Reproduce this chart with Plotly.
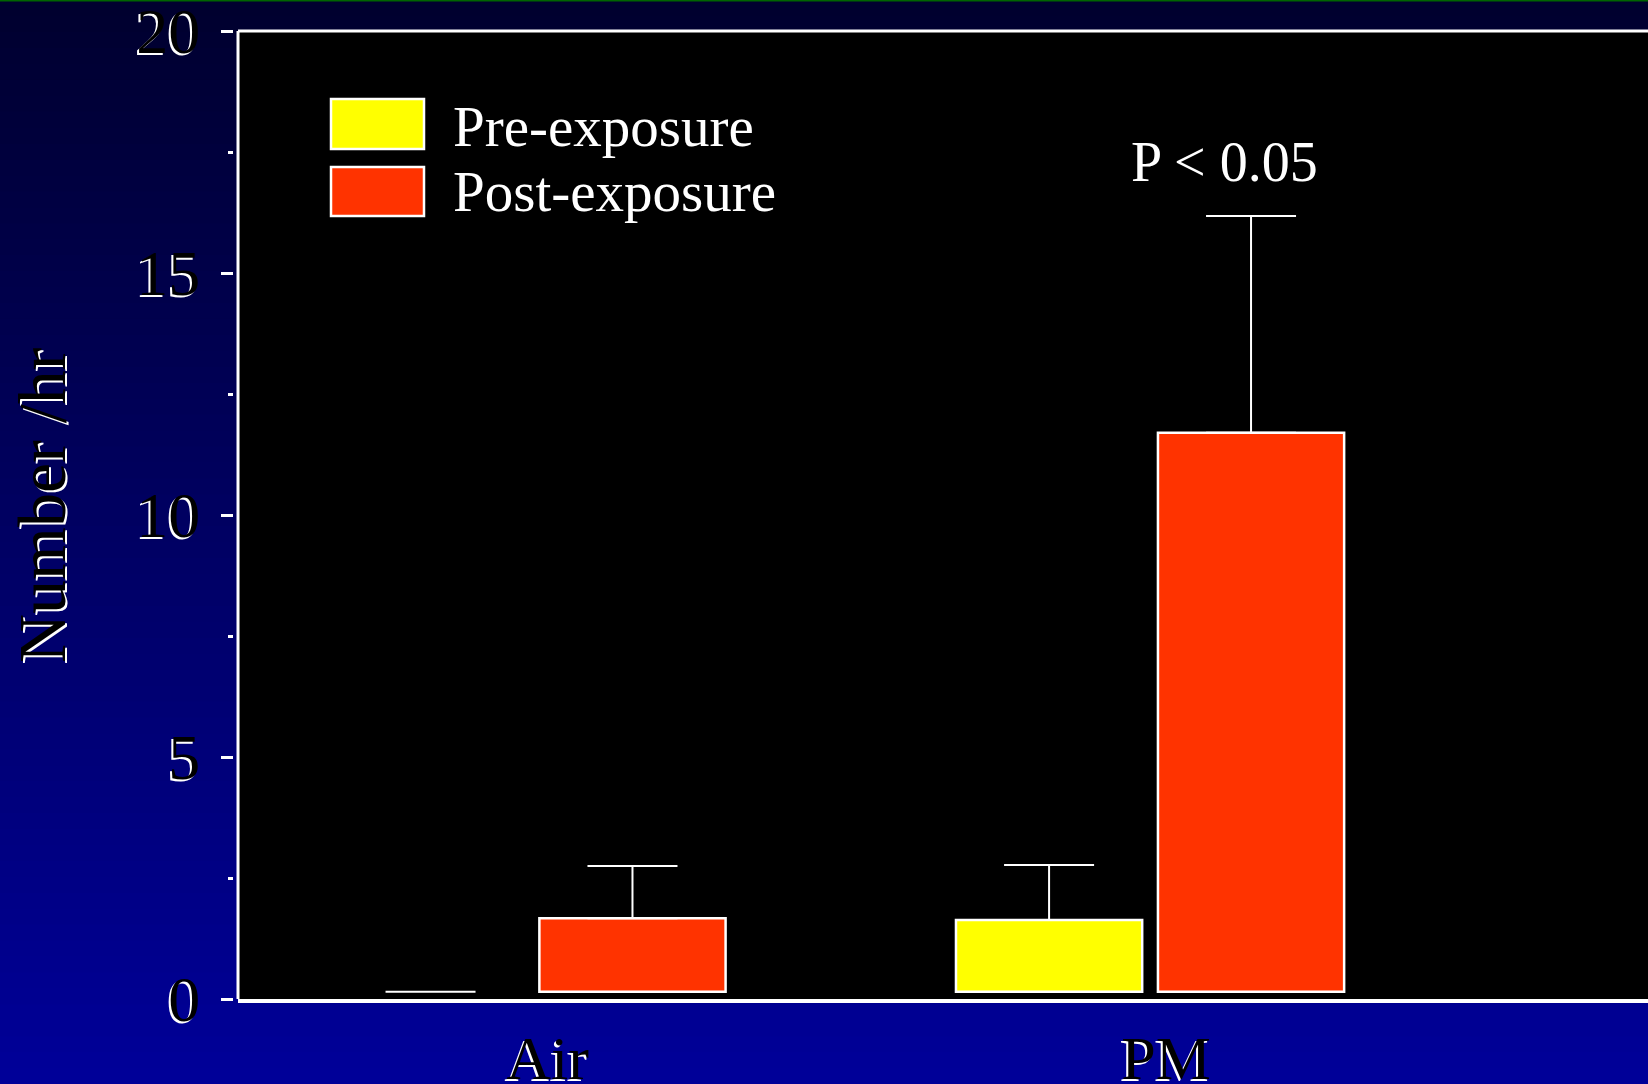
import plotly.graph_objects as go

# ---- data ----
categories = ["Air", "PM"]
pre_mean = [0.15, 1.63]
post_mean = [1.67, 11.70]
pre_err = [0.0, 1.14]
post_err = [1.08, 4.48]
bar_base = 0.15
y_major = [0, 5, 10, 15, 20]
y_minor = [2.5, 7.5, 12.5, 17.5]
series_names = ["Pre-exposure", "Post-exposure"]
p_text = "P < 0.05"
y_title = "Number /hr"

# ---- style ----
W, H = 1648, 1084
ML, MR, MT, MB = 233, 0, 31, 85
PW, PH = W - ML - MR, H - MT - MB
YELLOW = "#FFFF00"
RED = "#FF3300"
SERIF = "Liberation Serif, Times New Roman, serif"
SHADOW = "-2px 2px 0px #ffffff"


def px(X):
    return (X - ML) / PW


def py(Y):
    return (H - MB - Y) / PH


pre_h = [m - bar_base for m in pre_mean]
post_h = [m - bar_base for m in post_mean]

fig = go.Figure()
fig.add_trace(go.Bar(
    x=categories, y=pre_h, base=bar_base, name=series_names[0],
    marker=dict(color=YELLOW, line=dict(color="white", width=[0, 2.5])),
    error_y=dict(type="data", array=pre_err, arrayminus=[0, 0], symmetric=False,
                 color="white", thickness=2, width=45),
    showlegend=False, hoverinfo="skip",
))
fig.add_trace(go.Bar(
    x=categories, y=post_h, base=bar_base, name=series_names[1],
    marker=dict(color=RED, line=dict(color="white", width=2.5)),
    error_y=dict(type="data", array=post_err, arrayminus=[0, 0], symmetric=False,
                 color="white", thickness=2, width=45),
    showlegend=False, hoverinfo="skip",
))

shapes = []
# background vertical gradient
N = 68
top_c = (0, 0, 46)
bot_c = (0, 0, 153)
for i in range(N):
    Y0 = H * i / N
    Y1 = H * (i + 1) / N + 1
    t = (i + 0.5) / N
    c = tuple(int(round(a + (b - a) * t)) for a, b in zip(top_c, bot_c))
    shapes.append(dict(type="rect", xref="paper", yref="paper",
                       x0=px(-2), x1=px(W + 2), y0=py(Y1), y1=py(Y0),
                       fillcolor="rgb(%d,%d,%d)" % c, line=dict(width=0), layer="below"))
# green strip at very top
shapes.append(dict(type="rect", xref="paper", yref="paper", x0=px(-2), x1=px(W + 2),
                   y0=py(1.5), y1=py(-1), fillcolor="#006400", line=dict(width=0), layer="below"))
# black plotting area
shapes.append(dict(type="rect", xref="x domain", yref="y domain", x0=0, x1=1, y0=0, y1=1,
                   fillcolor="black", line=dict(width=0), layer="below"))
# left and top borders
shapes.append(dict(type="line", xref="x domain", yref="y domain", x0=0, x1=0, y0=0, y1=1,
                   line=dict(color="white", width=3), layer="above"))
shapes.append(dict(type="line", xref="x domain", yref="y domain", x0=0, x1=1, y0=1, y1=1,
                   line=dict(color="white", width=3), layer="above"))
# manual legend swatches
shapes.append(dict(type="rect", xref="paper", yref="paper", x0=px(331), x1=px(424),
                   y0=py(149), y1=py(99), fillcolor=YELLOW,
                   line=dict(color="white", width=2.5), layer="above"))
shapes.append(dict(type="rect", xref="paper", yref="paper", x0=px(331), x1=px(424),
                   y0=py(216), y1=py(167), fillcolor=RED,
                   line=dict(color="white", width=2.5), layer="above"))

annotations = [
    dict(text=series_names[0], xref="paper", yref="paper", x=px(451), y=py(126),
         xanchor="left", yanchor="middle", showarrow=False,
         font=dict(family=SERIF, size=57, color="white")),
    dict(text=series_names[1], xref="paper", yref="paper", x=px(451), y=py(192),
         xanchor="left", yanchor="middle", showarrow=False,
         font=dict(family=SERIF, size=57, color="white")),
    dict(text=p_text, xref="paper", yref="paper", x=px(1224), y=py(162),
         xanchor="center", yanchor="middle", showarrow=False,
         font=dict(family=SERIF, size=56, color="white")),
    dict(text=y_title, xref="paper", yref="paper", x=px(42), y=py(505),
         xanchor="center", yanchor="middle", showarrow=False, textangle=-90,
         font=dict(family=SERIF, size=68, color="black", shadow=SHADOW)),
]

fig.update_layout(
    width=W, height=H,
    margin=dict(l=ML, r=MR, t=MT, b=MB, pad=0, autoexpand=False),
    paper_bgcolor="#000060", plot_bgcolor="black",
    barmode="group", bargap=0.347, bargroupgap=0.078,
    shapes=shapes, annotations=annotations,
    showlegend=False,
    xaxis=dict(type="category", range=[-0.4745, 1.805], domain=[5 / PW, 1],
               automargin=False,
               showline=True, linecolor="white", linewidth=4,
               ticks="", showgrid=False, zeroline=False,
               tickfont=dict(family=SERIF, size=62, color="black", shadow=SHADOW),
               ticklabelstandoff=2, ticklabelshift=16, ticklabeloverflow="allow"),
    yaxis=dict(range=[0, 20], anchor="free", position=0, showline=False,
               automargin=False,
               tickmode="array", tickvals=y_major,
               ticks="outside", ticklen=12, tickwidth=3, tickcolor="white",
               minor=dict(tickmode="array", tickvals=y_minor, ticks="outside",
                          ticklen=5, tickwidth=3, tickcolor="white"),
               showgrid=False, zeroline=False,
               tickfont=dict(family=SERIF, size=64, color="black", shadow=SHADOW),
               ticklabelstandoff=8, ticklabeloverflow="allow"),
)

fig.write_html(
    "out.html",
    config={"displayModeBar": False},
    post_script="document.body.style.margin='0';document.body.style.overflow='hidden';",
)
